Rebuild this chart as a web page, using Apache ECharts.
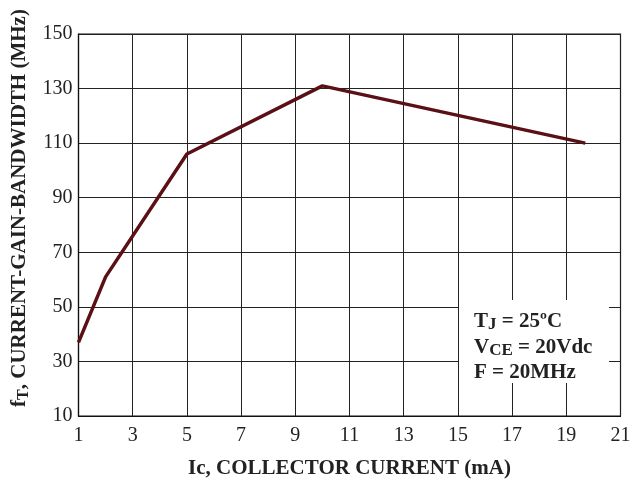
<!DOCTYPE html>
<html><head><meta charset="utf-8">
<script src="https://cdn.jsdelivr.net/npm/echarts@6/dist/echarts.min.js"></script>
<style>html,body{margin:0;padding:0;background:#fff}#c{width:631px;height:480px}</style>
</head><body><div id="c"></div>
<script>
var currentMA = [1, 2, 5, 10, 19.7];
var ftMHz = [37, 61, 106, 131, 110];
var xTicks = {min: 1, max: 21, interval: 2};
var yTicks = {min: 10, max: 150, interval: 20};

var chart = echarts.init(document.getElementById('c'));
var serif = 'Liberation Serif';
chart.setOption({
  animation: false,
  backgroundColor: '#fff',
  grid: {left: 78.5, top: 34, right: 10.5, bottom: 64, show: true, borderColor: '#111', borderWidth: 1.2,
         containLabel: false, outerBoundsMode: 'none'},
  xAxis: {
    type: 'value', min: xTicks.min, max: xTicks.max, interval: xTicks.interval,
    axisLine: {show: true, lineStyle: {color: '#111', width: 1.2}},
    axisTick: {show: false},
    splitLine: {show: true, lineStyle: {color: '#222', width: 1}},
    axisLabel: {color: '#222', fontFamily: serif, fontSize: 20, margin: 10},
    name: 'Ic, COLLECTOR CURRENT (mA)', nameLocation: 'middle', nameGap: 42,
    nameTextStyle: {color: '#222', fontFamily: serif, fontSize: 21, fontWeight: 'bold'}
  },
  yAxis: {
    type: 'value', min: yTicks.min, max: yTicks.max, interval: yTicks.interval,
    axisLine: {show: true, lineStyle: {color: '#111', width: 1.2}},
    axisTick: {show: false},
    splitLine: {show: true, lineStyle: {color: '#222', width: 1}},
    axisLabel: {color: '#222', fontFamily: serif, fontSize: 20, margin: 6},
    name: '{b|f}{s|T}{b|, CURRENT-GAIN-BANDWIDTH (MHz)}', nameLocation: 'middle', nameGap: 47, nameRotate: 90,
    nameTextStyle: {
      color: '#222', fontFamily: serif, fontSize: 21, fontWeight: 'bold', padding: [0, 0, 0, 34],
      rich: {
        b: {fontFamily: serif, fontSize: 21, fontWeight: 'bold', color: '#222'},
        s: {fontFamily: serif, fontSize: 16, fontWeight: 'bold', color: '#222', padding: [8, 0, 0, 0]}
      }
    }
  },
  graphic: [
    {type: 'rect', left: 459, top: 300, z: 1, shape: {width: 150, height: 83}, style: {fill: '#fff'}},
    {type: 'text', left: 474, top: 309, z: 2, style: {
      text: '{b|T}{s|J}{b| = 25ºC}\n{b|V}{s|CE}{b| = 20Vdc}\n{b|F = 20MHz}',
      lineHeight: 25,
      rich: {
        b: {fontFamily: serif, fontSize: 21, fontWeight: 'bold', fill: '#222', lineHeight: 25.5},
        s: {fontFamily: serif, fontSize: 17, fontWeight: 'bold', fill: '#222', lineHeight: 25.5, padding: [6, 0, 0, 0]}
      }
    }}
  ],
  series: [{
    type: 'line', data: currentMA.map(function (x, i) { return [x, ftMHz[i]]; }),
    showSymbol: false, symbol: 'none', z: 3,
    lineStyle: {color: '#5a1015', width: 3.5}
  }]
});
</script></body></html>
